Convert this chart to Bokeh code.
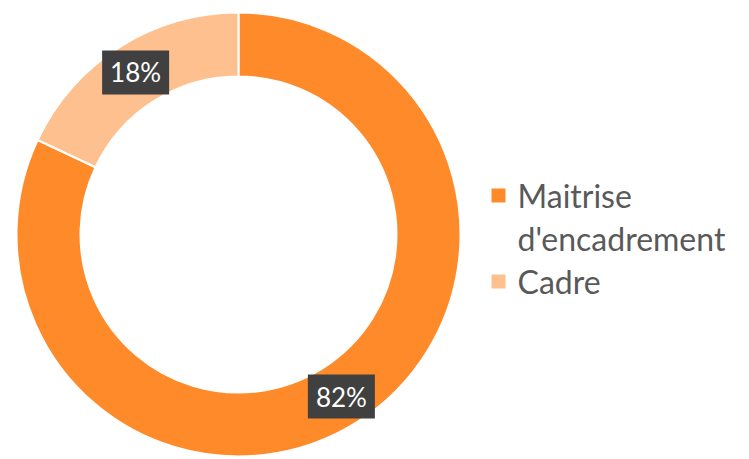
import numpy as np
from bokeh.plotting import figure
from bokeh.models import ColumnDataSource
from bokeh.core.properties import value
from bokeh.embed import file_html
from bokeh.resources import INLINE

# ---- data ----
categories = ["Maitrise d'encadrement", "Cadre"]
shares = [82, 18]
colors = ["#FF8A2A", "#FFC08F"]
label_texts = ["82%", "18%"]

# ---- layout constants (pixels) ----
W, H = 749, 459
CX, CY = 238, H - 234
R_OUT, R_IN = 222, 158
FONT = "Lato"

p = figure(width=W, height=H, x_range=(0, W), y_range=(0, H),
           output_backend="svg", toolbar_location=None, min_border=0,
           background_fill_color="white", border_fill_color="white")
p.axis.visible = False
p.grid.visible = False
p.outline_line_color = None

# Excel-style: first slice starts at 12 o'clock going clockwise
vals = np.array(shares, dtype=float)
frac = vals / vals.sum()
start_cw = np.concatenate([[0], np.cumsum(frac)[:-1]]) * 2 * np.pi
end_cw = np.cumsum(frac) * 2 * np.pi
start_a = np.pi / 2 - end_cw
end_a = np.pi / 2 - start_cw
mid_a = (start_a + end_a) / 2

src = ColumnDataSource(dict(start=start_a, end=end_a, color=colors))
p.annular_wedge(x=CX, y=CY, inner_radius=R_IN, outer_radius=R_OUT,
                start_angle="start", end_angle="end", direction="anticlock",
                fill_color="color", line_color="white", line_width=2, source=src)

r_lab = 192
lx = CX + r_lab * np.cos(mid_a)
ly = CY + r_lab * np.sin(mid_a)
lsrc = ColumnDataSource(dict(x=lx, y=ly, t=label_texts))
p.rect(x="x", y="y", width=67, height=44, width_units="screen", height_units="screen",
       fill_color="#404040", line_color=None, source=lsrc)
p.text(x="x", y="y", text="t", text_align="center", text_baseline="middle",
       text_color="white", text_font=value(FONT), text_font_size="26px", source=lsrc)

# ---- legend ----
LX_M, LX_T = 498, 517
mk0 = H - 195
step = 43
lines, ly_list, mk_y = [], [], []
cur = mk0
for i, cat in enumerate(categories):
    parts = cat.split(" ", 1) if len(cat) > 12 else [cat]
    mk_y.append(cur)
    for part in parts:
        lines.append(part)
        ly_list.append(cur)
        cur -= step
p.scatter(x=[LX_M] * len(categories), y=mk_y, marker="square", size=14,
          fill_color=colors, line_color=None)
p.text(x=[LX_T] * len(lines), y=ly_list, text=lines, text_align="left",
       text_baseline="middle", text_color="#595959",
       text_font=value(FONT), text_font_size="32px")

open("out.html", "w").write(file_html(p, INLINE))
